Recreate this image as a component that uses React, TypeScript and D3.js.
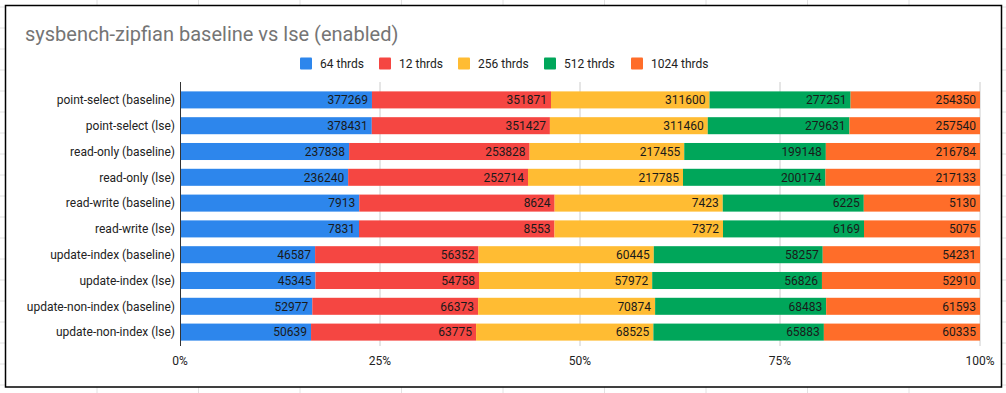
import React from "react";
import * as d3 from "d3";

const title = "sysbench-zipfian baseline vs lse (enabled)";
const categories = [
  "point-select (baseline)",
  "point-select (lse)",
  "read-only (baseline)",
  "read-only (lse)",
  "read-write (baseline)",
  "read-write (lse)",
  "update-index (baseline)",
  "update-index (lse)",
  "update-non-index (baseline)",
  "update-non-index (lse)",
];
const seriesNames = ["64 thrds", "12 thrds", "256 thrds", "512 thrds", "1024 thrds"];
const seriesColors = ["#2D86EC", "#F54642", "#FFBC33", "#00A65A", "#FF6D29"];
const s64 = [377269, 378431, 237838, 236240, 7913, 7831, 46587, 45345, 52977, 50639];
const s12 = [351871, 351427, 253828, 252714, 8624, 8553, 56352, 54758, 66373, 63775];
const s256 = [311600, 311460, 217455, 217785, 7423, 7372, 60445, 57972, 70874, 68525];
const s512 = [277251, 279631, 199148, 200174, 6225, 6169, 58257, 56826, 68483, 65883];
const s1024 = [254350, 257540, 216784, 217133, 5130, 5075, 54231, 52910, 61593, 60335];
const seriesValues = [s64, s12, s256, s512, s1024];
const tickValues = [0, 0.25, 0.5, 0.75, 1];
const legendX = [300, 379, 458, 544, 631];

const W = 1006;
const H = 393;
const FONT = "Roboto, Arial, sans-serif";

export default function App() {
  const x = d3.scaleLinear().domain([0, 1]).range([180, 980]);
  const y = d3.scaleBand<string>().domain(categories).range([87, 345]).paddingInner(0.34).paddingOuter(0.17);
  const fmt = d3.format(".0%");

  const rows = categories.map((c, i) => {
    const vals = seriesValues.map((s) => s[i]);
    const total = d3.sum(vals);
    let acc = 0;
    return vals.map((v, k) => {
      const x0 = acc / total;
      acc += v;
      return { c, k, v, x0, x1: acc / total };
    });
  });

  const colLines = d3.range(-4, 12).map((i) => 97 + i * 101.5);
  const rowLines = d3.range(0, 20).map((i) => 7 + i * 21);

  return (
    <div style={{ position: "absolute", left: 0, top: 0, width: W, height: H, background: "#fff" }}>
      <svg width={W} height={H} style={{ display: "block", fontFamily: FONT }}>
        <rect x={0} y={0} width={W} height={H} fill="#fff" />
        {colLines.map((cx, i) => (
          <line key={"c" + i} x1={cx} x2={cx} y1={0} y2={H} stroke="#e2e2e2" strokeWidth={1} />
        ))}
        {rowLines.map((ry, i) => (
          <line key={"r" + i} x1={0} x2={W} y1={ry} y2={ry} stroke="#e2e2e2" strokeWidth={1} />
        ))}
        <rect x={5.5} y={5.5} width={996} height={381.5} fill="#fff" stroke="#000" strokeWidth={1.5} />
        <text x={25} y={41} fontSize={20} fill="#757575">{title}</text>
        {seriesNames.map((n, k) => (
          <g key={n}>
            <rect x={legendX[k]} y={57.5} width={12} height={12} fill={seriesColors[k]} rx={1} />
            <text x={legendX[k] + 20} y={67.5} fontSize={12} fill="#222">{n}</text>
          </g>
        ))}
        {tickValues.slice(1).map((t) => (
          <line key={t} x1={x(t)} x2={x(t)} y1={82} y2={346} stroke="#cccccc" strokeWidth={1} />
        ))}
        {rows.map((segs, i) =>
          segs.map((s) => (
            <rect
              key={i + "-" + s.k}
              x={x(s.x0)}
              y={y(s.c)}
              width={x(s.x1) - x(s.x0)}
              height={y.bandwidth()}
              fill={seriesColors[s.k]}
            />
          ))
        )}
        {rows.map((segs, i) =>
          segs.map((s) => (
            <text
              key={"t" + i + "-" + s.k}
              x={x(s.x1) - 4}
              y={(y(s.c) as number) + y.bandwidth() / 2}
              dy="0.36em"
              textAnchor="end"
              fontSize={12}
              fill="#1a1a1a"
            >
              {s.v}
            </text>
          ))
        )}
        <line x1={180.5} x2={180.5} y1={82} y2={346} stroke="#333" strokeWidth={1} />
        {categories.map((c) => (
          <text
            key={c}
            x={175}
            y={(y(c) as number) + y.bandwidth() / 2}
            dy="0.36em"
            textAnchor="end"
            fontSize={12}
            fill="#222"
          >
            {c}
          </text>
        ))}
        {tickValues.map((t) => (
          <text key={"tk" + t} x={x(t)} y={365} textAnchor="middle" fontSize={12} fill="#222">
            {fmt(t)}
          </text>
        ))}
      </svg>
    </div>
  );
}
